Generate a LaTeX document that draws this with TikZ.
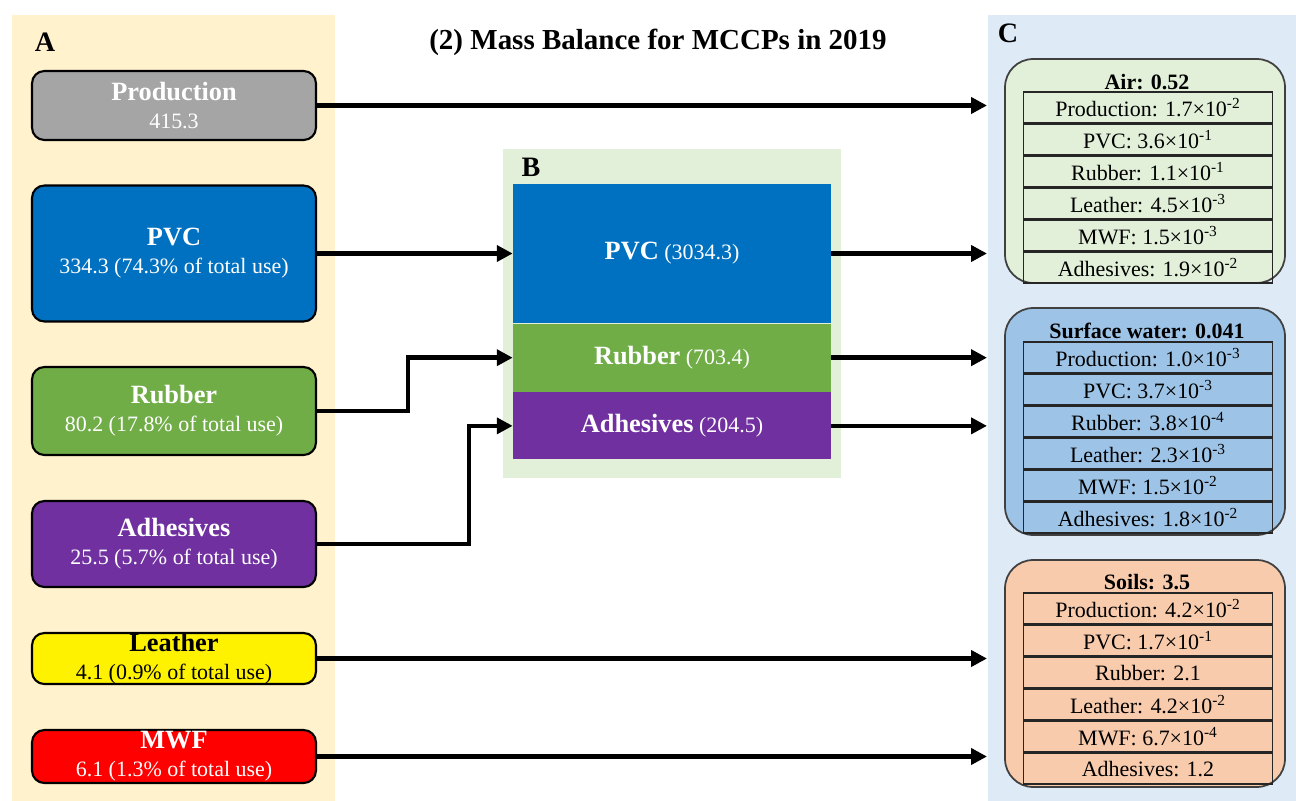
\documentclass[tikz,border=0pt]{standalone}
\usepackage{fontspec}
\setmainfont{Liberation Serif}
\usetikzlibrary{positioning, arrows.meta}

\definecolor{panelA}{HTML}{FFF2CC}
\definecolor{panelB}{HTML}{E2F0D9}
\definecolor{panelC}{HTML}{DEEBF7}
\definecolor{prodgray}{HTML}{A5A5A5}
\definecolor{pvcblue}{HTML}{0070C0}
\definecolor{rubgreen}{HTML}{70AD47}
\definecolor{adhpurple}{HTML}{7030A0}
\definecolor{airgreen}{HTML}{E2F0D9}
\definecolor{waterblue}{HTML}{9DC3E6}
\definecolor{soilorange}{HTML}{F8CBAD}

\newcommand{\srcbox}[2]{{\fontsize{15}{16}\selectfont\bfseries #1}\\{#2}}
\newcommand{\stocktxt}[2]{{\fontsize{15}{17}\selectfont\bfseries #1} #2}
\newcommand{\tenp}[1]{×10\textsuperscript{#1}}

\begin{document}
\begin{tikzpicture}
    [x=0.02cm, y=-0.02cm,
     source/.style={rectangle, rounded corners=7pt, draw=black, line width=1.2pt,
       minimum width=5.68cm, align=center, text=white, inner xsep=0pt, inner ysep=-4pt,
       font=\fontsize{12.5}{16}\selectfont},
     stock/.style={rectangle, minimum width=6.36cm, inner sep=0pt, text=white,
       font=\fontsize{12.5}{15}\selectfont},
     sink/.style={rectangle, rounded corners=16pt, draw=black!75, line width=1pt,
       minimum width=5.6cm},
     row/.style={rectangle, draw=black!85, line width=0.9pt, minimum width=4.98cm,
       minimum height=0.61cm, inner sep=0pt, font=\fontsize{12.5}{14}\selectfont},
     head/.style={font=\fontsize{12.5}{14}\selectfont\bfseries, inner sep=0pt},
     flow/.style={line width=2.6pt, -{Triangle[length=9pt,width=9pt]}}]
    \useasboundingbox (0,0) rectangle (1296,801);

    % panels
    \fill[panelA] (12,15) rectangle (335,801);
    \fill[panelC] (988,15) rectangle (1296,801);
    \fill[panelB] (503,149) rectangle (841,478);

    \node (labA) at (45,42) {\fontsize{16}{18}\selectfont\bfseries A};
    \node (labB) at (531,167) {\fontsize{16}{18}\selectfont\bfseries B};
    \node (labC) at (1008,33) {\fontsize{16}{18}\selectfont\bfseries C};
    \node (title) at (658,42) {\fontsize{16.5}{20}\selectfont\bfseries (2) Mass Balance for MCCPs in 2019};

    % A: uses
    \node (prod) at (174,105.5) [source, fill=prodgray, minimum height=1.38cm] {\srcbox{Production}{415.3}};
    \node (pvcA) at (174,253.5) [source, fill=pvcblue, minimum height=2.72cm] {\srcbox{PVC}{334.3 (74.3\% of total use)}};
    \node (rubA) at (174,411) [source, fill=rubgreen, minimum height=1.76cm] {\srcbox{Rubber}{80.2 (17.8\% of total use)}};
    \node (adhA) at (174,544) [source, fill=adhpurple, minimum height=1.72cm] {\srcbox{Adhesives}{25.5 (5.7\% of total use)}};
    \node (leaA) at (174,658.5) [source, fill=yellow, text=black, minimum height=1.02cm] {\srcbox{Leather}{4.1 (0.9\% of total use)}};
    \node (mwfA) at (174,756.5) [source, fill=red, minimum height=1.06cm] {\srcbox{MWF}{6.1 (1.3\% of total use)}};

    % B: stocks
    \node (pvcB) at (672,253.5) [stock, fill=pvcblue, minimum height=2.78cm] {\stocktxt{PVC}{(3034.3)}};
    \node (rubB) [stock, fill=rubgreen, minimum height=1.36cm, below=0pt of pvcB] {\stocktxt{Rubber}{(703.4)}};
    \node (adhB) [stock, fill=adhpurple, minimum height=1.34cm, below=0pt of rubB] {\stocktxt{Adhesives}{(204.5)}};

    % C: air
    \node (air) at (1145,171) [sink, fill=airgreen, minimum height=4.48cm] {};
    \node (airT) at (1147,82) [head] {Air: 0.52};
    \node (air1) at (1148,107.5) [row] {Production: 1.7\tenp{-2}};
    \node (air2) [row, below=0pt of air1] {PVC: 3.6\tenp{-1}};
    \node (air3) [row, below=0pt of air2] {Rubber: 1.1\tenp{-1}};
    \node (air4) [row, below=0pt of air3] {Leather: 4.5\tenp{-3}};
    \node (air5) [row, below=0pt of air4] {MWF: 1.5\tenp{-3}};
    \node (air6) [row, below=0pt of air5] {Adhesives: 1.9\tenp{-2}};

    % C: surface water
    \node (wat) at (1145,421.5) [sink, fill=waterblue, minimum height=4.54cm] {};
    \node (watT) at (1147,331) [head] {Surface water: 0.041};
    \node (wat1) at (1148,357.5) [row] {Production: 1.0\tenp{-3}};
    \node (wat2) [row, below=0pt of wat1] {PVC: 3.7\tenp{-3}};
    \node (wat3) [row, below=0pt of wat2] {Rubber: 3.8\tenp{-4}};
    \node (wat4) [row, below=0pt of wat3] {Leather: 2.3\tenp{-3}};
    \node (wat5) [row, below=0pt of wat4] {MWF: 1.5\tenp{-2}};
    \node (wat6) [row, below=0pt of wat5] {Adhesives: 1.8\tenp{-2}};

    % C: soils
    \node (soil) at (1145,673.5) [sink, fill=soilorange, minimum height=4.54cm] {};
    \node (soilT) at (1147,582) [head] {Soils: 3.5};
    \node (soil1) at (1148,608.5) [row] {Production: 4.2\tenp{-2}};
    \node (soil2) [row, below=0pt of soil1] {PVC: 1.7\tenp{-1}};
    \node (soil3) [row, below=0pt of soil2] {Rubber: 2.1};
    \node (soil4) [row, below=0pt of soil3] {Leather: 4.2\tenp{-2}};
    \node (soil5) [row, below=0pt of soil4] {MWF: 6.7\tenp{-4}};
    \node (soil6) [row, below=0pt of soil5] {Adhesives: 1.2};

    \coordinate (cin) at (987,0);

    \draw[flow] (prod) -- (prod -| cin);
    \draw[flow] (pvcA) -- (pvcB);
    \draw[flow] (rubA.east) -- ++(91,0) |- (rubB.west);
    \draw[flow] (adhA.east) -- ++(152,0) |- (adhB.west);
    \draw[flow] (leaA) -- (leaA -| cin);
    \draw[flow] (mwfA) -- (mwfA -| cin);

    \draw[flow] (pvcB) -- (pvcB -| cin);
    \draw[flow] (rubB) -- (rubB -| cin);
    \draw[flow] (adhB) -- (adhB -| cin);
\end{tikzpicture}
\end{document}
